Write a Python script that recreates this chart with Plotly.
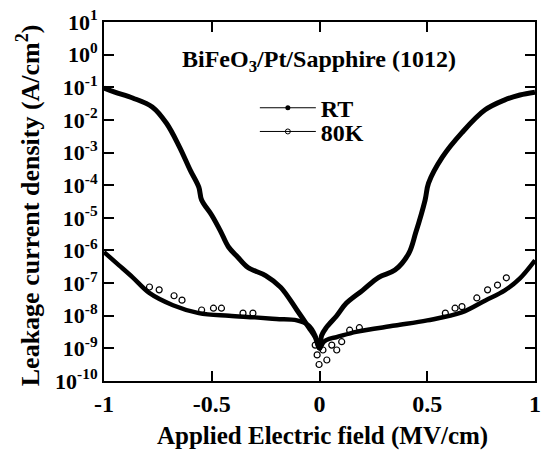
import plotly.graph_objects as go

# ---- data ----
rt_x = [-1, -0.95, -0.867, -0.776, -0.71, -0.65, -0.6, -0.56, -0.547, -0.5, -0.46, -0.423,
        -0.38, -0.332, -0.25, -0.18, -0.105, -0.05, -0.02, 0, 0.01, 0.032, 0.08, 0.124,
        0.2, 0.275, 0.35, 0.414, 0.446, 0.49, 0.506, 0.57, 0.66, 0.767, 0.86, 0.93, 1]
rt_j = [9.5e-2, 7.1e-2, 4.7e-2, 2.5e-2, 7.9e-3, 1.5e-3, 2.9e-4, 8.7e-5, 3.5e-5, 1.2e-5,
        4.0e-6, 1.3e-6, 6.3e-7, 3.0e-7, 1.7e-7, 7.4e-8, 1.5e-8, 4.4e-9, 2.2e-9, 1.0e-9,
        2.5e-9, 4.4e-9, 1.0e-8, 2.4e-8, 6.0e-8, 1.5e-7, 2.5e-7, 8.1e-7, 3.4e-6, 3.5e-5,
        1.15e-4, 7.2e-4, 4.0e-3, 2.0e-2, 4.1e-2, 5.8e-2, 7.1e-2]

k80_x = [-1, -0.93, -0.867, -0.79, -0.68, -0.56, -0.42, -0.3, -0.2, -0.105, -0.05,
         -0.02, 0, 0.02, 0.05, 0.078, 0.17, 0.35, 0.5, 0.66, 0.77, 0.86, 0.93, 1]
k80_j = [8.9e-7, 3.5e-7, 1.5e-7, 5.0e-8, 2.1e-8, 1.2e-8, 1.0e-8, 8.9e-9, 7.9e-9, 7.2e-9,
         5.0e-9, 2.5e-9, 1.0e-9, 1.6e-9, 2.0e-9, 2.2e-9, 3.2e-9, 5.0e-9, 7.2e-9, 1.26e-8,
         2.95e-8, 6.0e-8, 1.4e-7, 5.0e-7]

k80_scatter_x = [-0.789, -0.744, -0.675, -0.638, -0.547, -0.492, -0.455, -0.355, -0.309,
                 -0.02, -0.011, -0.002, 0.016, 0.034, 0.057, 0.08, 0.103, 0.14, 0.185,
                 0.584, 0.629, 0.661, 0.73, 0.78, 0.826, 0.867]
k80_scatter_j = [7.6e-8, 6.2e-8, 4.1e-8, 3.0e-8, 1.5e-8, 1.7e-8, 1.7e-8, 1.2e-8, 1.2e-8,
                 1.26e-9, 6.3e-10, 3.2e-10, 8.9e-10, 4.4e-10, 1.26e-9, 8.9e-10, 1.6e-9,
                 3.6e-9, 4.3e-9, 1.2e-8, 1.7e-8, 1.9e-8, 3.5e-8, 6.2e-8, 8.7e-8, 1.45e-7]

x_ticks = [-1, -0.5, 0, 0.5, 1]
x_ticktext = ["-1", "-0.5", "0", "0.5", "1"]
y_exps = list(range(-10, 2))

FONT = "Liberation Serif, Times New Roman, serif"

fig = go.Figure()
fig.add_trace(go.Scatter(x=k80_x, y=k80_j, mode="lines", line=dict(color="black", width=4.5, shape="spline"),
                         showlegend=False))
fig.add_trace(go.Scatter(x=k80_scatter_x, y=k80_scatter_j, mode="markers",
                         marker=dict(symbol="circle-open", size=6, color="black", line=dict(width=1.2)),
                         showlegend=False))
fig.add_trace(go.Scatter(x=rt_x, y=rt_j, mode="lines", line=dict(color="black", width=5, shape="spline"),
                         showlegend=False))
# legend entries
fig.add_trace(go.Scatter(x=[None], y=[None], mode="lines+markers", name="RT", legend="legend",
                         line=dict(color="black", width=1),
                         marker=dict(symbol="circle", size=5, color="black")))
fig.add_trace(go.Scatter(x=[None], y=[None], mode="lines+markers", name="80K", legend="legend2",
                         line=dict(color="black", width=1),
                         marker=dict(symbol="circle-open", size=5, color="black")))

fig.add_annotation(x=0.499, y=0.89, xref="paper", yref="paper", showarrow=False,
                   text="BiFeO<sub>3</sub>/Pt/Sapphire (1012)", xanchor="center", yanchor="middle",
                   font=dict(family=FONT, size=24, color="black", weight="bold"))
fig.add_annotation(x=0.508, y=-0.153, xref="paper", yref="paper", showarrow=False,
                   text="Applied Electric field (MV/cm)", xanchor="center", yanchor="middle",
                   font=dict(family=FONT, size=25, color="black", weight="bold"))
fig.add_annotation(x=-0.176, y=0.49, xref="paper", yref="paper", showarrow=False,
                   text="Leakage current density (A/cm<sup>2</sup>)", textangle=-90,
                   xanchor="center", yanchor="middle",
                   font=dict(family=FONT, size=26, color="black", weight="bold"))

leg_common = dict(xanchor="left", yanchor="middle", bgcolor="rgba(0,0,0,0)",
                  font=dict(family=FONT, size=24, weight="bold"), itemwidth=56)

fig.update_layout(
    width=546, height=451,
    margin=dict(l=104, r=5, t=22, b=70),
    paper_bgcolor="white", plot_bgcolor="white",
    font=dict(family=FONT, color="black", weight="bold"),
    legend=dict(x=0.35, y=0.760, **leg_common),
    legend2=dict(x=0.35, y=0.694, **leg_common),
    xaxis=dict(range=[-1, 1], tickvals=x_ticks, ticktext=x_ticktext,
               ticks="inside", ticklen=10, tickwidth=1.5, tickcolor="black",
               showline=True, linecolor="black", linewidth=2, mirror="ticks",
               showgrid=False, zeroline=False,
               tickfont=dict(family=FONT, size=24, weight="bold")),
    yaxis=dict(type="log", range=[-10, 1],
               tickvals=[10.0 ** e for e in y_exps],
               ticktext=["10<sup>%d</sup>" % e for e in y_exps],
               ticks="inside", ticklen=10, tickwidth=1.5, tickcolor="black",
               showline=True, linecolor="black", linewidth=2, mirror="ticks",
               showgrid=False, zeroline=False,
               tickfont=dict(family=FONT, size=22, weight="bold")),
)

fig.write_html("out.html")
